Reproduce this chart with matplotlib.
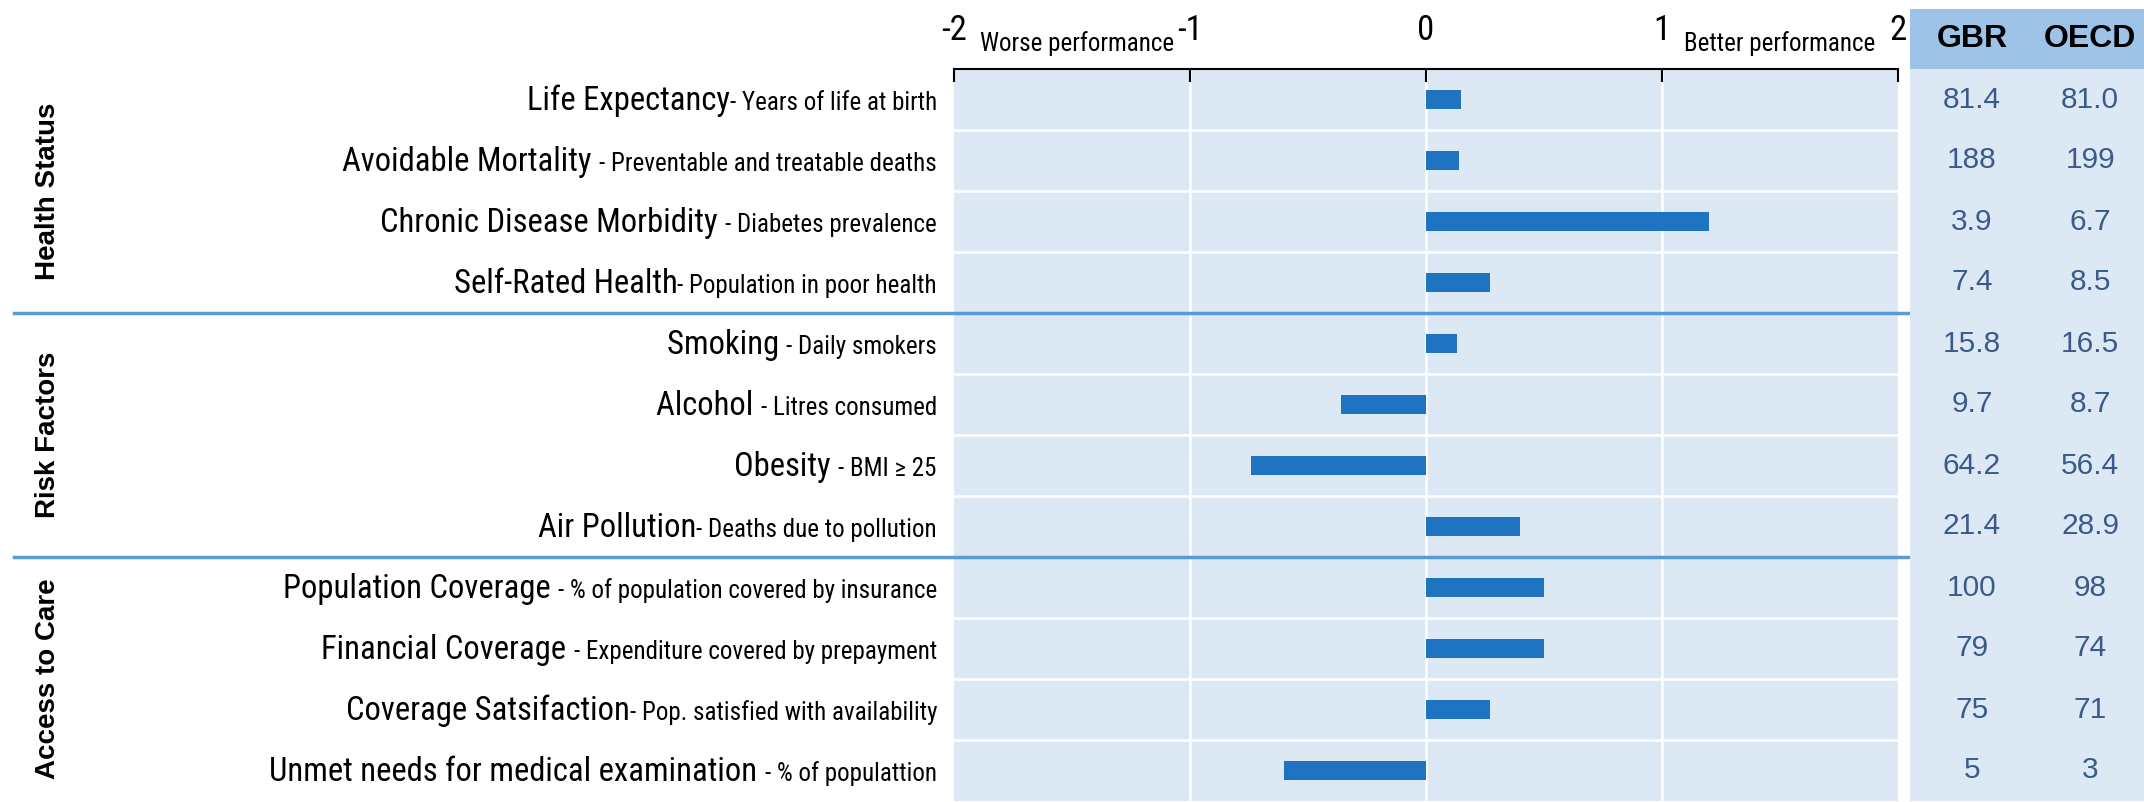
import matplotlib
matplotlib.use('Agg')
import matplotlib.pyplot as plt
import matplotlib.transforms as transforms
import numpy as np
import logging

logging.getLogger('matplotlib.font_manager').setLevel(logging.ERROR)
plt.rcParams['axes.unicode_minus'] = False

# ---- data ----
groups = ['Health Status', 'Risk Factors', 'Access to Care']
group_sizes = [4, 4, 4]
main_labels = ['Life Expectancy', 'Avoidable Mortality ', 'Chronic Disease Morbidity ',
               'Self-Rated Health', 'Smoking ', 'Alcohol ', 'Obesity ', 'Air Pollution',
               'Population Coverage ', 'Financial Coverage ', 'Coverage Satsifaction',
               'Unmet needs for medical examination ']
sub_labels = ['- Years of life at birth', '- Preventable and treatable deaths',
              '- Diabetes prevalence', '- Population in poor health', '- Daily smokers',
              '- Litres consumed', '- BMI \u2265 25', '- Deaths due to pollution',
              '- % of population covered by insurance', '- Expenditure covered by prepayment',
              '- Pop. satisfied with availability', '- % of populattion']
scores = [0.15, 0.14, 1.20, 0.27, 0.13, -0.36, -0.74, 0.40, 0.50, 0.50, 0.27, -0.60]
gbr = ['81.4', '188', '3.9', '7.4', '15.8', '9.7', '64.2', '21.4', '100', '79', '75', '5']
oecd = ['81.0', '199', '6.7', '8.5', '16.5', '8.7', '56.4', '28.9', '98', '74', '71', '3']
table_cols = ['GBR', 'OECD']
xticks = [-2, -1, 0, 1, 2]

# ---- style ----
W, H = 2144, 802
bg = '#dde8f5'
head_bg = '#9dc3e6'
bar_col = '#1f74c1'
sep_col = '#5b9bd5'
num_col = '#3b5a8a'
NARROW = ['Roboto Condensed', 'Archivo Narrow', 'PT Sans Narrow', 'Pragati Narrow',
          'Fira Sans Condensed', 'DejaVu Sans']
ARIAL = ['Liberation Sans', 'DejaVu Sans']

fig = plt.figure(figsize=(W / 100, H / 100), dpi=100)

def frac(l, t, r, b):
    return [l / W, 1 - b / H, (r - l) / W, (b - t) / H]

ax_top, ax_bot = 69, 801
ax = fig.add_axes(frac(954, ax_top, 1898, ax_bot))
tab = fig.add_axes(frac(1910, 9, W, ax_bot))

n = len(scores)
y = np.arange(n)

ax.set_facecolor(bg)
ax.set_xlim(-2, 2)
ax.set_ylim(n - 0.5, -0.5)
ax.barh(y, scores, height=0.32, color=bar_col, zorder=3)

for xv in [-1, 0, 1]:
    ax.axvline(xv, color='white', lw=1.8, zorder=1)
for yv in np.arange(0.5, n - 0.5, 1):
    ax.axhline(yv, color='white', lw=1.8, zorder=1)

for s in ['left', 'right', 'bottom']:
    ax.spines[s].set_visible(False)
ax.spines['top'].set_linewidth(1.5)
ax.xaxis.tick_top()
ax.set_xticks(xticks)
ax.set_xticklabels([str(t) for t in xticks], fontsize=25, family=NARROW)
ax.tick_params(axis='x', direction='in', length=9, width=1.5, pad=16)
ax.set_yticks([])

ax.text(-1.48, 1.035, 'Worse performance', transform=ax.get_xaxis_transform(),
        ha='center', va='center', fontsize=18, family=NARROW)
ax.text(1.5, 1.035, 'Better performance', transform=ax.get_xaxis_transform(),
        ha='center', va='center', fontsize=18, family=NARROW)

# row labels (big name + small description), baseline aligned
renderer = fig.canvas.get_renderer()
lab_tr = transforms.blended_transform_factory(fig.transFigure, ax.transData)
right_x = 937 / W
for i in range(n):
    st = ax.text(right_x, i + 0.17, sub_labels[i], transform=lab_tr, ha='right',
                 va='baseline', fontsize=18, family=NARROW)
    w = st.get_window_extent(renderer).width / W
    ax.text(right_x - w, i + 0.17, main_labels[i], transform=lab_tr, ha='right',
            va='baseline', fontsize=23.5, family=NARROW)

# group labels and separators
start = 0
for g, size in zip(groups, group_sizes):
    mid = start + (size - 1) / 2
    ax.text(48 / W, mid, g, transform=lab_tr, rotation=90, ha='center', va='center',
            fontsize=20, fontweight='bold', family=ARIAL)
    start += size
    if start < n:
        ax.plot([14 / W, 1], [start - 0.5, start - 0.5], transform=lab_tr,
                color=sep_col, lw=2.5, clip_on=False, zorder=5)

# table
head_h = (ax_top - 9) / ((ax_bot - ax_top) / n)
tab.set_facecolor(bg)
tab.set_xlim(0, 2)
tab.set_ylim(n - 0.5, -0.5 - head_h)
tab.axhspan(-0.5 - head_h, -0.5, color=head_bg, lw=0)
for s in tab.spines.values():
    s.set_visible(False)
tab.set_xticks([])
tab.set_yticks([])
col_x = [0.53, 1.54]
for cx, name in zip(col_x, table_cols):
    tab.text(cx, -0.5 - head_h / 2, name, ha='center', va='center', fontsize=23,
             fontweight='bold', family=ARIAL)
for i in range(n):
    tab.text(col_x[0], i, gbr[i], ha='center', va='center', fontsize=21.5,
             color=num_col, family=ARIAL)
    tab.text(col_x[1], i, oecd[i], ha='center', va='center', fontsize=21.5,
             color=num_col, family=ARIAL)

fig.savefig('out.png', dpi=100)
